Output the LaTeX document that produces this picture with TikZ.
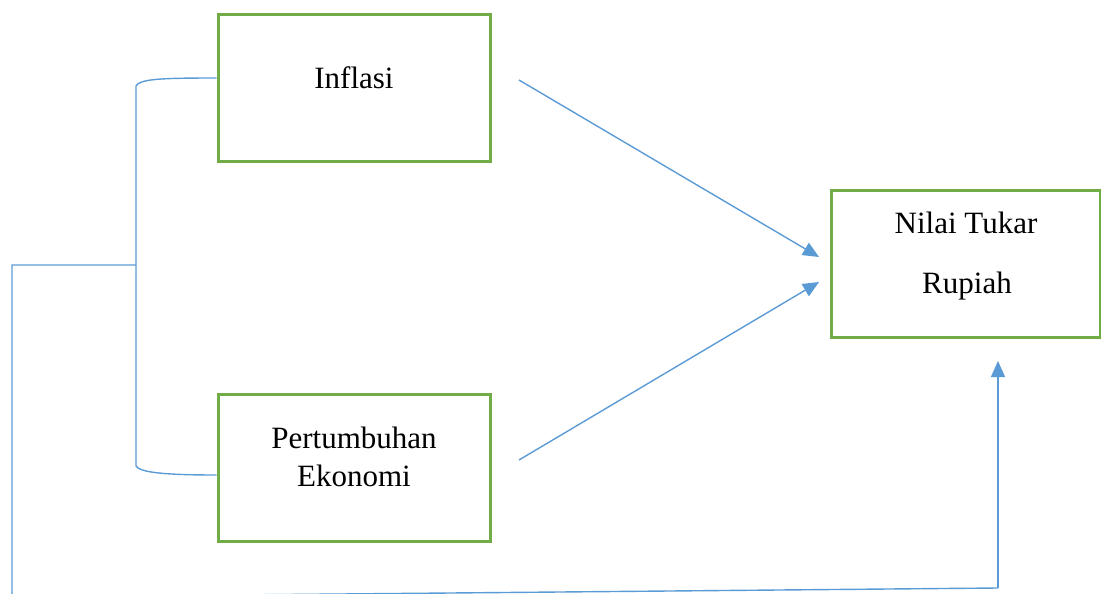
\documentclass[tikz,border=0pt]{standalone}
\usepackage{fontspec}
\setmainfont{Liberation Serif}
\usetikzlibrary{arrows.meta}
\definecolor{boxgreen}{HTML}{70AD47}
\definecolor{lineblue}{HTML}{5B9BD5}
\begin{document}
\begin{tikzpicture}[x=1pt,y=-1pt,
  box/.style={draw=boxgreen,line width=3pt,minimum width=272pt,minimum height=147pt,inner sep=0pt},
  txt/.style={font=\fontsize{31}{37}\selectfont,inner sep=0pt,anchor=center},
  conn/.style={draw=lineblue,line width=1.4pt},
  arr/.style={conn,-{Triangle[length=16pt,width=14pt]}}]
\useasboundingbox (0,0) rectangle (1101,594);
\begin{scope}
\clip (0,0) rectangle (1101,594);
\node[box] (inf) at (354,88) {};
\node[box] (pe) at (354,467.5) {};
\node[box,minimum width=269pt] (ntr) at (965.5,264) {};
\node[txt] (tinf) at (354,78) {Inflasi};
\node[txt] (tpe1) at (354,438) {Pertumbuhan};
\node[txt] (tpe2) at (354,476) {Ekonomi};
\node[txt] (tntr1) at (966,223) {Nilai Tukar};
\node[txt] (tntr2) at (967,286) {Rupiah};
% bracket
\coordinate (bt) at (136,86);
\coordinate (bb) at (136,466);
\coordinate (bm) at (136,265);
\coordinate (lt) at (12,265);
\coordinate (lb) at (12,597);
\coordinate (rb) at (998,588);
\coordinate (rt) at (998,361);
\path[conn] (inf.west |- 0,78) .. controls (160,78) and (140,79) .. (bt) -- (bb) .. controls (140,472) and (160,475) .. (pe.west |- 0,475);
\path[conn] (bm) -- (lt) -- (lb) -- (rb);
\path[arr] (rb) -- (rt);
% arrows to Nilai Tukar
\coordinate (s1) at (519,80);
\coordinate (s2) at (519,460);
\coordinate (e1) at (819,257);
\coordinate (e2) at (819,282);
\path[arr] (s1) -- (e1);
\path[arr] (s2) -- (e2);
\end{scope}
\end{tikzpicture}
\end{document}
